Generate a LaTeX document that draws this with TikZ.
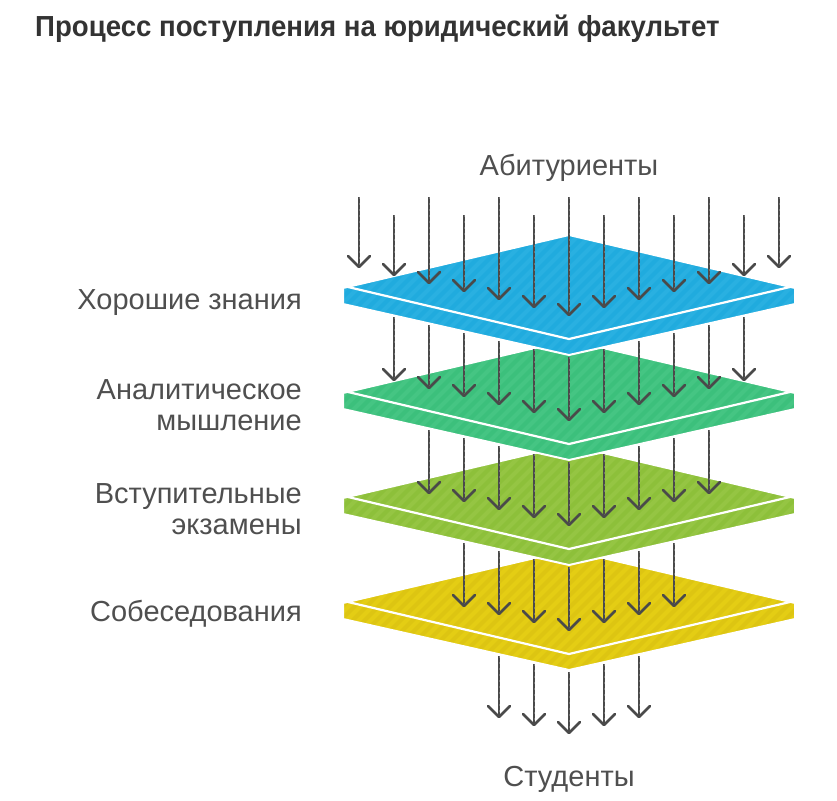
\documentclass[tikz,border=0pt]{standalone}
\usepackage{fontspec}
\setmainfont{Liberation Sans}
\definecolor{cblu}{HTML}{20ABDE}
\definecolor{sblu}{HTML}{29B0E1}
\definecolor{cgrn}{HTML}{3CC07C}
\definecolor{sgrn}{HTML}{45C583}
\definecolor{cyg}{HTML}{8DC03A}
\definecolor{syg}{HTML}{95C543}
\definecolor{cyel}{HTML}{E4CD14}
\definecolor{syel}{HTML}{DDC512}
\definecolor{arrowgray}{HTML}{4A4A4A}
\definecolor{dashgray}{HTML}{707070}
\definecolor{labgray}{HTML}{4F4F4F}
\definecolor{titlegray}{HTML}{333333}
\begin{document}
\begin{tikzpicture}[x=1pt,y=-1pt,
  arrowline/.style={line width=2.6pt, draw=arrowgray},
  arrowdash/.style={line width=0.9pt, draw=dashgray, dash pattern=on 2pt off 4pt},
  arrowhead/.style={line width=2.6pt, draw=arrowgray, line cap=round, line join=round},
  lab/.style={font=\fontsize{29}{31}\selectfont, text=labgray, inner sep=0pt},
  ttl/.style={font=\fontsize{29}{31}\selectfont\bfseries, text=titlegray, inner sep=0pt}]
\useasboundingbox (0,0) rectangle (837,800);
\fill[white] (0,0) rectangle (837,800);

% plates, drawn from the lowest to the highest
\foreach \yc/\col/\scol in {602/cyel/syel, 497/cyg/syg, 392/cgrn/sgrn, 287/cblu/sblu}{
  \pgfmathsetmacro\yt{\yc-52}
  \pgfmathsetmacro\yl{\yc+1}
  \pgfmathsetmacro\ylb{\yc+17}
  \pgfmathsetmacro\yb{\yc+68}
  \pgfmathsetmacro\yf{\yc+52}
  \pgfmathsetmacro\ybs{\yc+75}
  \pgfmathsetmacro\yts{\yc-60}
  \begin{scope}
    \clip (343,\yl) -- (569,\yt) -- (795,\yl) -- (795,\ylb) -- (569,\yb) -- (343,\ylb) -- cycle;
    \fill[\col] (340,\yts) rectangle (800,\ybs);
    \foreach \s in {0,...,52}{
      \pgfmathsetmacro\sa{200+12*\s}
      \pgfmathsetmacro\sb{\sa+135}
      \draw[\scol, line width=4pt] (\sa,\ybs) -- (\sb,\yts);
    }
  \end{scope}
  \draw[white, line width=2pt, line join=round] (343,\yl) -- (569,\yt) -- (795,\yl) -- (795,\ylb) -- (569,\yb) -- (343,\ylb) -- cycle;
  \draw[white, line width=2.2pt, line join=miter] (348,\yc) -- (569,\yf) -- (790,\yc);
}

% arrows above the first plate
\foreach \k [count=\i] in {-6,...,6}{
  \pgfmathsetmacro\x{569+35*\k}
  \pgfmathsetmacro\st{197+18*mod(abs(\k),2)}
  \pgfmathsetmacro\tp{315-8*abs(\k)}
  \coordinate (a\i) at (\x,\st);
  \coordinate (b\i) at (\x,\tp);
  \draw[arrowline] (a\i) -- (b\i);
  \draw[arrowdash] (a\i) -- (b\i);
  \draw[arrowhead] (b\i) ++(-11,-11) -- (b\i) -- ++(11,-11);
}

% arrows between plates and below the last plate
\foreach \m/\ys/\ye/\lev in {5/357/420/1, 4/462/525/2, 3/567/630/3, 2/672/733/4}{
  \foreach \k in {-\m,...,\m}{
    \pgfmathsetmacro\x{569+35*\k}
    \pgfmathsetmacro\st{\ys-8*abs(\k)}
    \pgfmathsetmacro\tp{\ye-8*abs(\k)}
    \coordinate (s\lev x\k) at (\x,\st);
    \coordinate (t\lev x\k) at (\x,\tp);
    \draw[arrowline] (s\lev x\k) -- (t\lev x\k);
    \draw[arrowdash] (s\lev x\k) -- (t\lev x\k);
    \draw[arrowhead] (t\lev x\k) ++(-11,-11) -- (t\lev x\k) -- ++(11,-11);
  }
}

% texts
\node[ttl, anchor=base west] (title) at (35,37) {\scalebox{0.952}[1]{Процесс поступления на юридический факультет}};
\node[lab, anchor=base] (abit) at (569,175) {Абитуриенты};
\node[lab, anchor=base] (stud) at (569,786) {Студенты};
\node[lab, anchor=base east] (l1) at (302,309) {Хорошие знания};
\node[lab, anchor=base east] (l2a) at (302,399) {Аналитическое};
\node[lab, anchor=base east] (l2b) at (302,430) {мышление};
\node[lab, anchor=base east] (l3a) at (302,503) {Вступительные};
\node[lab, anchor=base east] (l3b) at (302,534) {экзамены};
\node[lab, anchor=base east] (l4) at (302,621) {Собеседования};
\end{tikzpicture}
\end{document}
